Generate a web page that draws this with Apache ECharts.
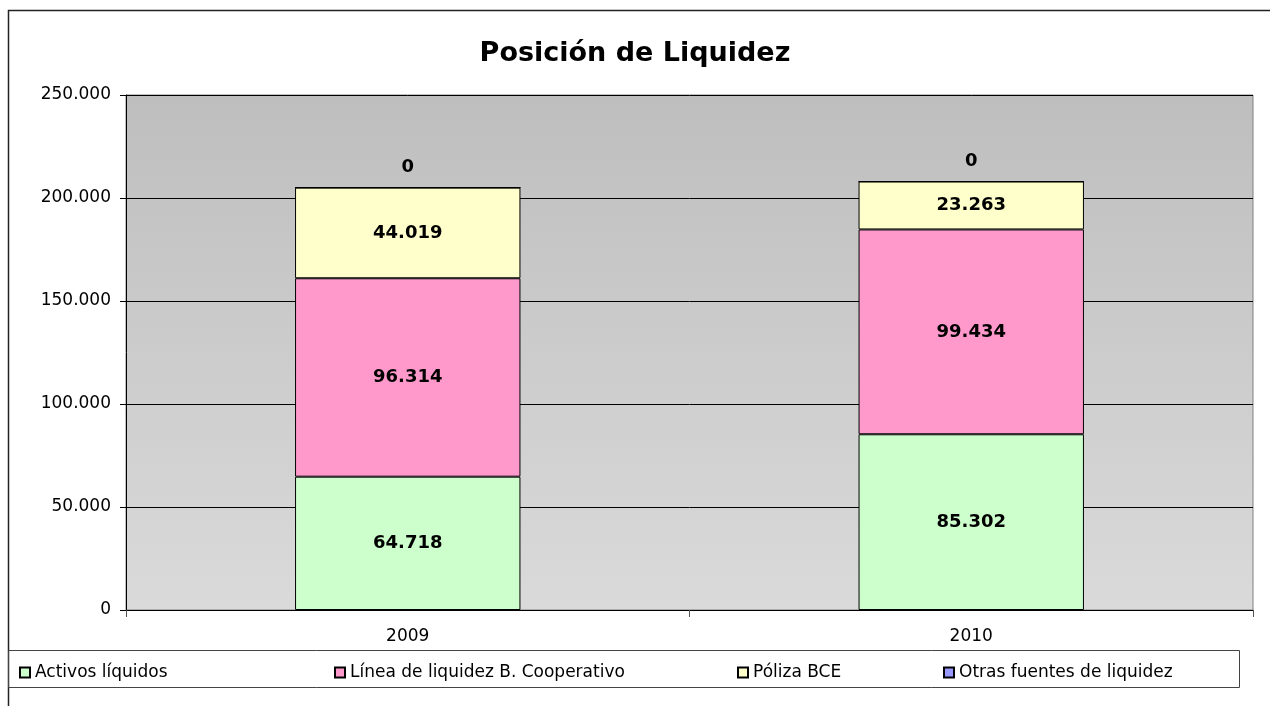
<!DOCTYPE html>
<html lang="es">
<head>
<meta charset="utf-8" />
<title>Posición de Liquidez</title>
<script src="https://cdn.jsdelivr.net/npm/echarts@6/dist/echarts.min.js"></script>
<style>
  html, body { margin: 0; padding: 0; background: #fff; }
  #chart { width: 1270px; height: 706px; }
</style>
</head>
<body>
<div id="chart"></div>
<script>
// categorias y valores
const years = ['2009', '2010'];
const seriesNames = ['Activos líquidos', 'Línea de liquidez B. Cooperativo', 'Póliza BCE', 'Otras fuentes de liquidez'];
const activosVal = [64718, 85302];
const lineaVal = [96314, 99434];
const polizaVal = [44019, 23263];
const otrasVal = [0, 0];
const yTicks = [0, 50000, 100000, 150000, 200000, 250000];

const colors = ['#ccffcc', '#ff99cc', '#ffffcc', '#9999ff'];
const FONT = '"DejaVu Sans", Verdana, sans-serif';

// formato con punto de miles
const fmt = function (v) {
  return String(Math.round(v)).replace(/\B(?=(\d{3})+(?!\d))/g, '.');
};

const chart = echarts.init(document.getElementById('chart'));

const makeSeries = function (name, data, color, pos) {
  return {
    name: name,
    type: 'bar',
    stack: 'total',
    barWidth: '40%',
    data: data,
    itemStyle: { color: color, borderColor: '#000', borderWidth: 1 },
    label: {
      show: true,
      position: pos,
      distance: 11,
      formatter: function (p) { return fmt(p.value); },
      color: '#000',
      fontWeight: 'bold',
      fontSize: 18,
      fontFamily: FONT
    },
    emphasis: { disabled: true }
  };
};

// una leyenda por serie para colocarlas como en el original
const legendLeft = [14, 329, 732, 938];
const legends = seriesNames.map(function (n, i) {
  return {
    data: [n],
    left: legendLeft[i],
    top: 659,
    itemWidth: 10,
    itemHeight: 10,
    itemGap: 4,
    icon: 'rect',
    selectedMode: false,
    textStyle: { color: '#000', fontSize: 17, fontFamily: FONT, padding: [0, 0, 0, 0] }
  };
});

const option = {
  animation: false,
  textStyle: { fontFamily: FONT },
  title: {
    text: 'Posición de Liquidez',
    left: 'center',
    top: 35,
    textStyle: { fontSize: 27, fontWeight: 'bold', color: '#000', fontFamily: FONT }
  },
  legend: legends,
  graphic: [
    { type: 'rect', shape: { x: 8.5, y: 10.5, width: 1400, height: 900 },
      style: { fill: 'none', stroke: '#222', lineWidth: 1.5 }, silent: true },
    { type: 'rect', shape: { x: 8.5, y: 650.5, width: 1231, height: 37 },
      style: { fill: 'none', stroke: '#444', lineWidth: 1 }, silent: true },
    { type: 'rect', z: -10, shape: { x: 126, y: 95, width: 1127, height: 515 },
      style: {
        fill: new echarts.graphic.LinearGradient(0, 0, 0, 1, [
          { offset: 0, color: '#bebebe' },
          { offset: 1, color: '#dadada' }
        ]),
        stroke: '#808080', lineWidth: 1
      }, silent: true }
  ],
  grid: { left: 126, right: 17, top: 95, bottom: 96, containLabel: false },
  xAxis: {
    type: 'category',
    data: years,
    axisLine: { lineStyle: { color: '#000', width: 1 } },
    axisTick: { show: true, alignWithLabel: false, length: 7, lineStyle: { color: '#555' } },
    axisLabel: { color: '#000', fontSize: 17, margin: 18, fontFamily: FONT },
    splitLine: { show: false }
  },
  yAxis: {
    type: 'value',
    min: yTicks[0],
    max: yTicks[yTicks.length - 1],
    interval: yTicks[1] - yTicks[0],
    axisLine: { show: true, lineStyle: { color: '#000' } },
    axisTick: { show: true, inside: false, length: 6, lineStyle: { color: '#000' } },
    axisLabel: { color: '#000', fontSize: 17, margin: 15, fontFamily: FONT, formatter: fmt },
    splitLine: { show: true, lineStyle: { color: '#000', width: 1 } }
  },
  series: [
    makeSeries(seriesNames[0], activosVal, colors[0], 'inside'),
    makeSeries(seriesNames[1], lineaVal, colors[1], 'inside'),
    makeSeries(seriesNames[2], polizaVal, colors[2], 'inside'),
    makeSeries(seriesNames[3], otrasVal, colors[3], 'top')
  ]
};

chart.setOption(option);
window.onresize = function () { chart.resize(); };
</script>
</body>
</html>
